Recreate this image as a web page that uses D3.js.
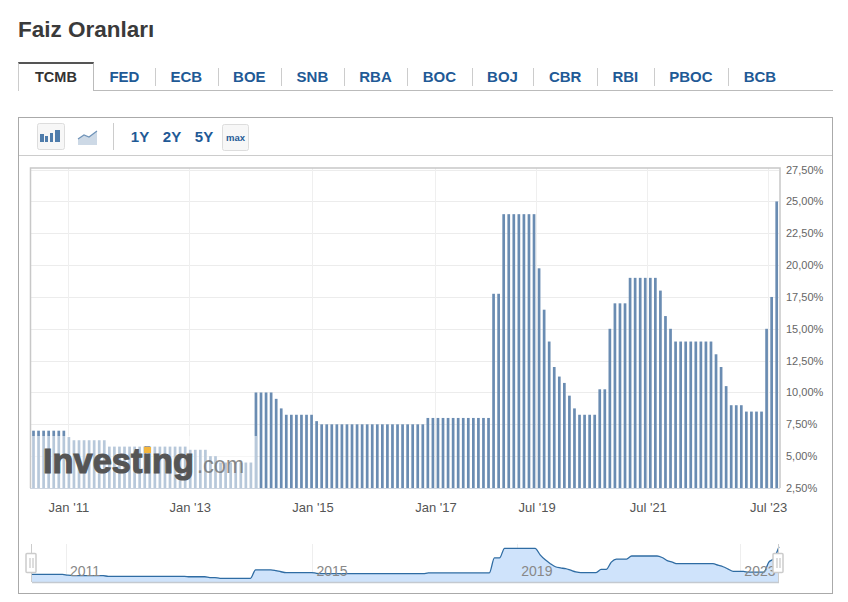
<!DOCTYPE html>
<html>
<head>
<meta charset="utf-8">
<script src="https://cdn.jsdelivr.net/npm/d3@7"></script>
<style>
  html, body { margin: 0; padding: 0; background: #fff; }
  body { width: 848px; height: 602px; position: relative; overflow: hidden; font-family: "Liberation Sans", Arial, sans-serif; }
  h1 { position: absolute; left: 18px; top: 17px; margin: 0; font-size: 22.5px; line-height: 26px; color: #3a3a3a; }
  #tabs { position: absolute; left: 18px; top: 62px; width: 815px; height: 28px; border-bottom: 1px solid #bbb; display: flex; }
  .tab { position: relative; font-size: 15px; font-weight: bold; color: #1f5a96; line-height: 29px; padding: 0 15.5px; }
  .tab + .tab:not(.second)::after { content: ""; position: absolute; left: 0; top: 6px; height: 18px; width: 1px; background: #ccc; }
  .tab.on { color: #333; font-size: 14.5px; padding: 0 16px; border-top: 2px solid #555; border-left: 1px solid #ccc; border-right: 1px solid #bbb; background: #fff; line-height: 27px; margin-bottom: -1px; height: 27px; }
  svg { position: absolute; left: 0; top: 0; }
  text { font-family: "Liberation Sans", Arial, sans-serif; }
</style>
</head>
<body>
<h1>Faiz Oranları</h1>
<div id="tabs"></div>
<script>
document.addEventListener("DOMContentLoaded", () => {

  const tabs = ["TCMB", "FED", "ECB", "BOE", "SNB", "RBA", "BOC", "BOJ", "CBR", "RBI", "PBOC", "BCB"];
  const ranges = ["1Y", "2Y", "5Y"];

  // one bar per month shown, oldest first
  const rates = [
    7, 7, 7, 7, 7, 7, 7,
    6.5,
    6.25, 6.25, 6.25, 6.25, 6.25, 6.25, 6.25,
    5.75, 5.75, 5.75, 5.75, 5.75, 5.75, 5.75, 5.75, 5.75, 5.75, 5.75, 5.75, 5.75, 5.75, 5.75, 5.75,
    5.5, 5.5, 5.5, 5.5,
    5, 5,
    4.5, 4.5, 4.5, 4.5, 4.5, 4.5, 4.5,
    10, 10, 10, 10, 9.5, 8.75,
    8.25, 8.25, 8.25, 8.25, 8.25, 8.25,
    7.75,
    7.5, 7.5, 7.5, 7.5, 7.5, 7.5, 7.5, 7.5, 7.5, 7.5, 7.5, 7.5, 7.5, 7.5, 7.5, 7.5, 7.5, 7.5, 7.5, 7.5, 7.5,
    8, 8, 8, 8, 8, 8, 8, 8, 8, 8, 8, 8, 8,
    17.75, 17.75,
    24, 24, 24, 24, 24, 24, 24,
    19.75, 16.5, 14, 12, 11.25, 10.75, 9.75, 8.75,
    8.25, 8.25, 8.25, 8.25,
    10.25, 10.25, 15,
    17, 17, 17,
    19, 19, 19, 19, 19, 19,
    18, 16, 15,
    14, 14, 14, 14, 14, 14, 14, 14,
    13, 12, 10.5,
    9, 9, 9,
    8.5, 8.5, 8.5, 8.5,
    15, 17.5, 25
  ];

  const yTicks = [2.5, 5, 7.5, 10, 12.5, 15, 17.5, 20, 22.5, 25, 27.5];
  const xTickLabels = ["Jan '11", "Jan '13", "Jan '15", "Jan '17", "Jul '19", "Jul '21", "Jul '23"];
  const xTickIndex = [6.8, 30.8, 55.1, 79.4, 99.4, 121.4, 145.2]; // in bars, they don't sit on bar centres
  const navYears = ["2011", "2015", "2019", "2023"];
  const navYearIndex = [6.6, 55.1, 95.4, 139.3];

  const blue = "#1f5a96";

  d3.select("#tabs").selectAll("div")
  .data(tabs)
  .enter()
  .append("div")
  .attr("class", (d, i) => "tab" + (i === 0 ? " on" : i === 1 ? " second" : ""))
  .text((d) => d);

  const svg = d3.select("body")
  .append("svg")
  .attr("width", 848)
  .attr("height", 602);

  // outer box and toolbar
  svg.append("rect").attr("x", 18.5).attr("y", 117.5).attr("width", 814).attr("height", 476)
  .attr("fill", "none").attr("stroke", "#aaa");
  svg.append("line").attr("x1", 19).attr("x2", 832).attr("y1", 155.5).attr("y2", 155.5).attr("stroke", "#ccc");
  svg.append("line").attr("x1", 113.5).attr("x2", 113.5).attr("y1", 123).attr("y2", 150).attr("stroke", "#ccc");

  svg.append("rect").attr("x", 37.5).attr("y", 123.5).attr("width", 27).attr("height", 26).attr("rx", 2)
  .attr("fill", "#f7f7f7").attr("stroke", "#ddd");
  svg.selectAll(".ico")
  .data([[40, 4, 134], [45, 3, 136], [50, 3, 133], [55, 5, 130]])
  .enter()
  .append("rect")
  .attr("class", "ico")
  .attr("x", (d) => d[0])
  .attr("y", (d) => d[2])
  .attr("width", (d) => d[1])
  .attr("height", (d) => 142 - d[2])
  .attr("fill", "#4f7cab");

  svg.append("path").attr("d", "M78 139 L84 135 L89 137 L97 131 L97 145 L78 145 Z").attr("fill", "#cdd9e6");
  svg.append("path").attr("d", "M78 139 L84 135 L89 137 L97 131").attr("fill", "none").attr("stroke", "#6f93b8").attr("stroke-width", 1.2);

  const rangeScale = d3.scalePoint().domain(ranges).range([140, 204]);
  svg.selectAll(".range")
  .data(ranges)
  .enter()
  .append("text")
  .attr("class", "range")
  .attr("x", (d) => rangeScale(d))
  .attr("y", 142)
  .attr("text-anchor", "middle")
  .style("font-size", "15px")
  .style("font-weight", "bold")
  .style("fill", blue)
  .text((d) => d);

  svg.append("rect").attr("x", 222.5).attr("y", 124.5).attr("width", 26).attr("height", 26).attr("rx", 2)
  .attr("fill", "#f7f7f7").attr("stroke", "#ddd");
  svg.append("text").attr("x", 235.5).attr("y", 141).attr("text-anchor", "middle")
  .style("font-size", "9.5px").style("font-weight", "bold").style("fill", blue).text("max");

  // main chart
  const x = d3.scaleLinear().domain([0, rates.length - 1]).range([33.5, 776.7]);
  const y = d3.scaleLinear().domain([2.5, 27.5]).range([488, 169.6]);
  const barW = 2.7;

  svg.append("g").selectAll("line")
  .data(yTicks)
  .enter()
  .append("line")
  .attr("x1", 31)
  .attr("x2", 779)
  .attr("y1", (d) => Math.round(y(d)) + 0.5)
  .attr("y2", (d) => Math.round(y(d)) + 0.5)
  .attr("stroke", "#ececec");

  svg.append("g").selectAll("line")
  .data(xTickIndex)
  .enter()
  .append("line")
  .attr("x1", (d) => Math.round(x(d)) + 0.5)
  .attr("x2", (d) => Math.round(x(d)) + 0.5)
  .attr("y1", 168)
  .attr("y2", 488)
  .attr("stroke", "#efefef");

  svg.append("g").selectAll("rect")
  .data(rates)
  .enter()
  .append("rect")
  .attr("x", (d, i) => x(i) - barW / 2)
  .attr("y", (d) => y(d))
  .attr("width", barW)
  .attr("height", (d) => y(2.5) - y(d))
  .attr("fill", "#6a8cb2");

  // watermark: pale panel over the first years, then the logo
  svg.append("rect").attr("x", 31).attr("y", 436).attr("width", 226).attr("height", 52)
  .attr("fill", "#fff").attr("opacity", 0.52);
  svg.append("text").attr("x", 43).attr("y", 473)
  .attr("textLength", 151).attr("lengthAdjust", "spacingAndGlyphs")
  .style("font-size", "35px").style("font-weight", "bold").style("fill", "#555")
  .style("stroke", "#555").style("stroke-width", 1.1)
  .text("Investing");
  svg.append("text").attr("x", 197).attr("y", 473)
  .attr("textLength", 47).attr("lengthAdjust", "spacingAndGlyphs")
  .style("font-size", "23px").style("fill", "#777").style("opacity", 0.85)
  .text(".com");
  svg.append("rect").attr("x", 144).attr("y", 447).attr("width", 7).attr("height", 6).attr("fill", "#f3b63f");

  // plot frame
  svg.append("path").attr("d", "M30.5 488 V168 H780 V488").attr("fill", "none").attr("stroke", "#c8c8c8").attr("stroke-width", 1.5);
  svg.append("line").attr("x1", 30).attr("x2", 780).attr("y1", 488.5).attr("y2", 488.5).attr("stroke", "#cdd5e0");

  svg.append("g").selectAll("text")
  .data(yTicks)
  .enter()
  .append("text")
  .attr("x", 786)
  .attr("y", (d) => y(d) + 4)
  .style("font-size", "11px")
  .style("fill", "#666")
  .text((d) => d.toFixed(2).replace(".", ",") + "%");

  svg.append("g").selectAll("text")
  .data(xTickIndex)
  .enter()
  .append("text")
  .attr("x", (d) => x(d) + 1)
  .attr("y", 512)
  .attr("text-anchor", "middle")
  .style("font-size", "13px")
  .style("fill", "#555")
  .text((d, i) => xTickLabels[i]);

  // navigator
  const navX = d3.scaleLinear().domain([0, rates.length - 1]).range([32, 779]);
  const navY = d3.scaleLinear().domain([4.5, 24]).range([578.3, 548.3]);
  const navBase = 582;

  svg.append("g").selectAll("line")
  .data(navYearIndex)
  .enter()
  .append("line")
  .attr("x1", (d) => Math.round(navX(d)) + 0.5)
  .attr("x2", (d) => Math.round(navX(d)) + 0.5)
  .attr("y1", 544)
  .attr("y2", navBase)
  .attr("stroke", "#eee");

  const navArea = d3.area()
  .x((d, i) => navX(i))
  .y0(navBase)
  .y1((d) => navY(d))
  .curve(d3.curveMonotoneX);

  const navLine = d3.line()
  .x((d, i) => navX(i))
  .y((d) => navY(d))
  .curve(d3.curveMonotoneX);

  svg.append("path").datum(rates).attr("d", navArea).attr("fill", "#cfe3fb");
  svg.append("path").datum(rates).attr("d", navLine).attr("fill", "none").attr("stroke", "#2f6ca3").attr("stroke-width", 1.3);
  svg.append("line").attr("x1", 32).attr("x2", 779).attr("y1", navBase + 0.5).attr("y2", navBase + 0.5)
  .attr("stroke", "#c4c9d0").attr("stroke-width", 1.5);

  svg.append("g").selectAll("text")
  .data(navYearIndex)
  .enter()
  .append("text")
  .attr("x", (d) => navX(d) + 4.5)
  .attr("y", 576)
  .style("font-size", "14px")
  .style("fill", "#888")
  .text((d, i) => navYears[i]);

  // range handles
  [31, 778].forEach((hx) => {
    svg.append("line").attr("x1", hx + 0.5).attr("x2", hx + 0.5).attr("y1", 544).attr("y2", navBase)
    .attr("stroke", "#ccc");
    svg.append("rect").attr("x", hx - 5).attr("y", 553.5).attr("width", 10).attr("height", 19).attr("rx", 1)
    .attr("fill", "#fff").attr("stroke", "#ccc").attr("stroke-width", 1.5);
    svg.selectAll(null)
    .data([-1.5, 1.5])
    .enter()
    .append("line")
    .attr("x1", (d) => hx + d + 0.5)
    .attr("x2", (d) => hx + d + 0.5)
    .attr("y1", 558)
    .attr("y2", 568)
    .attr("stroke", "#bbb");
  });

});
</script>
</body>
</html>
